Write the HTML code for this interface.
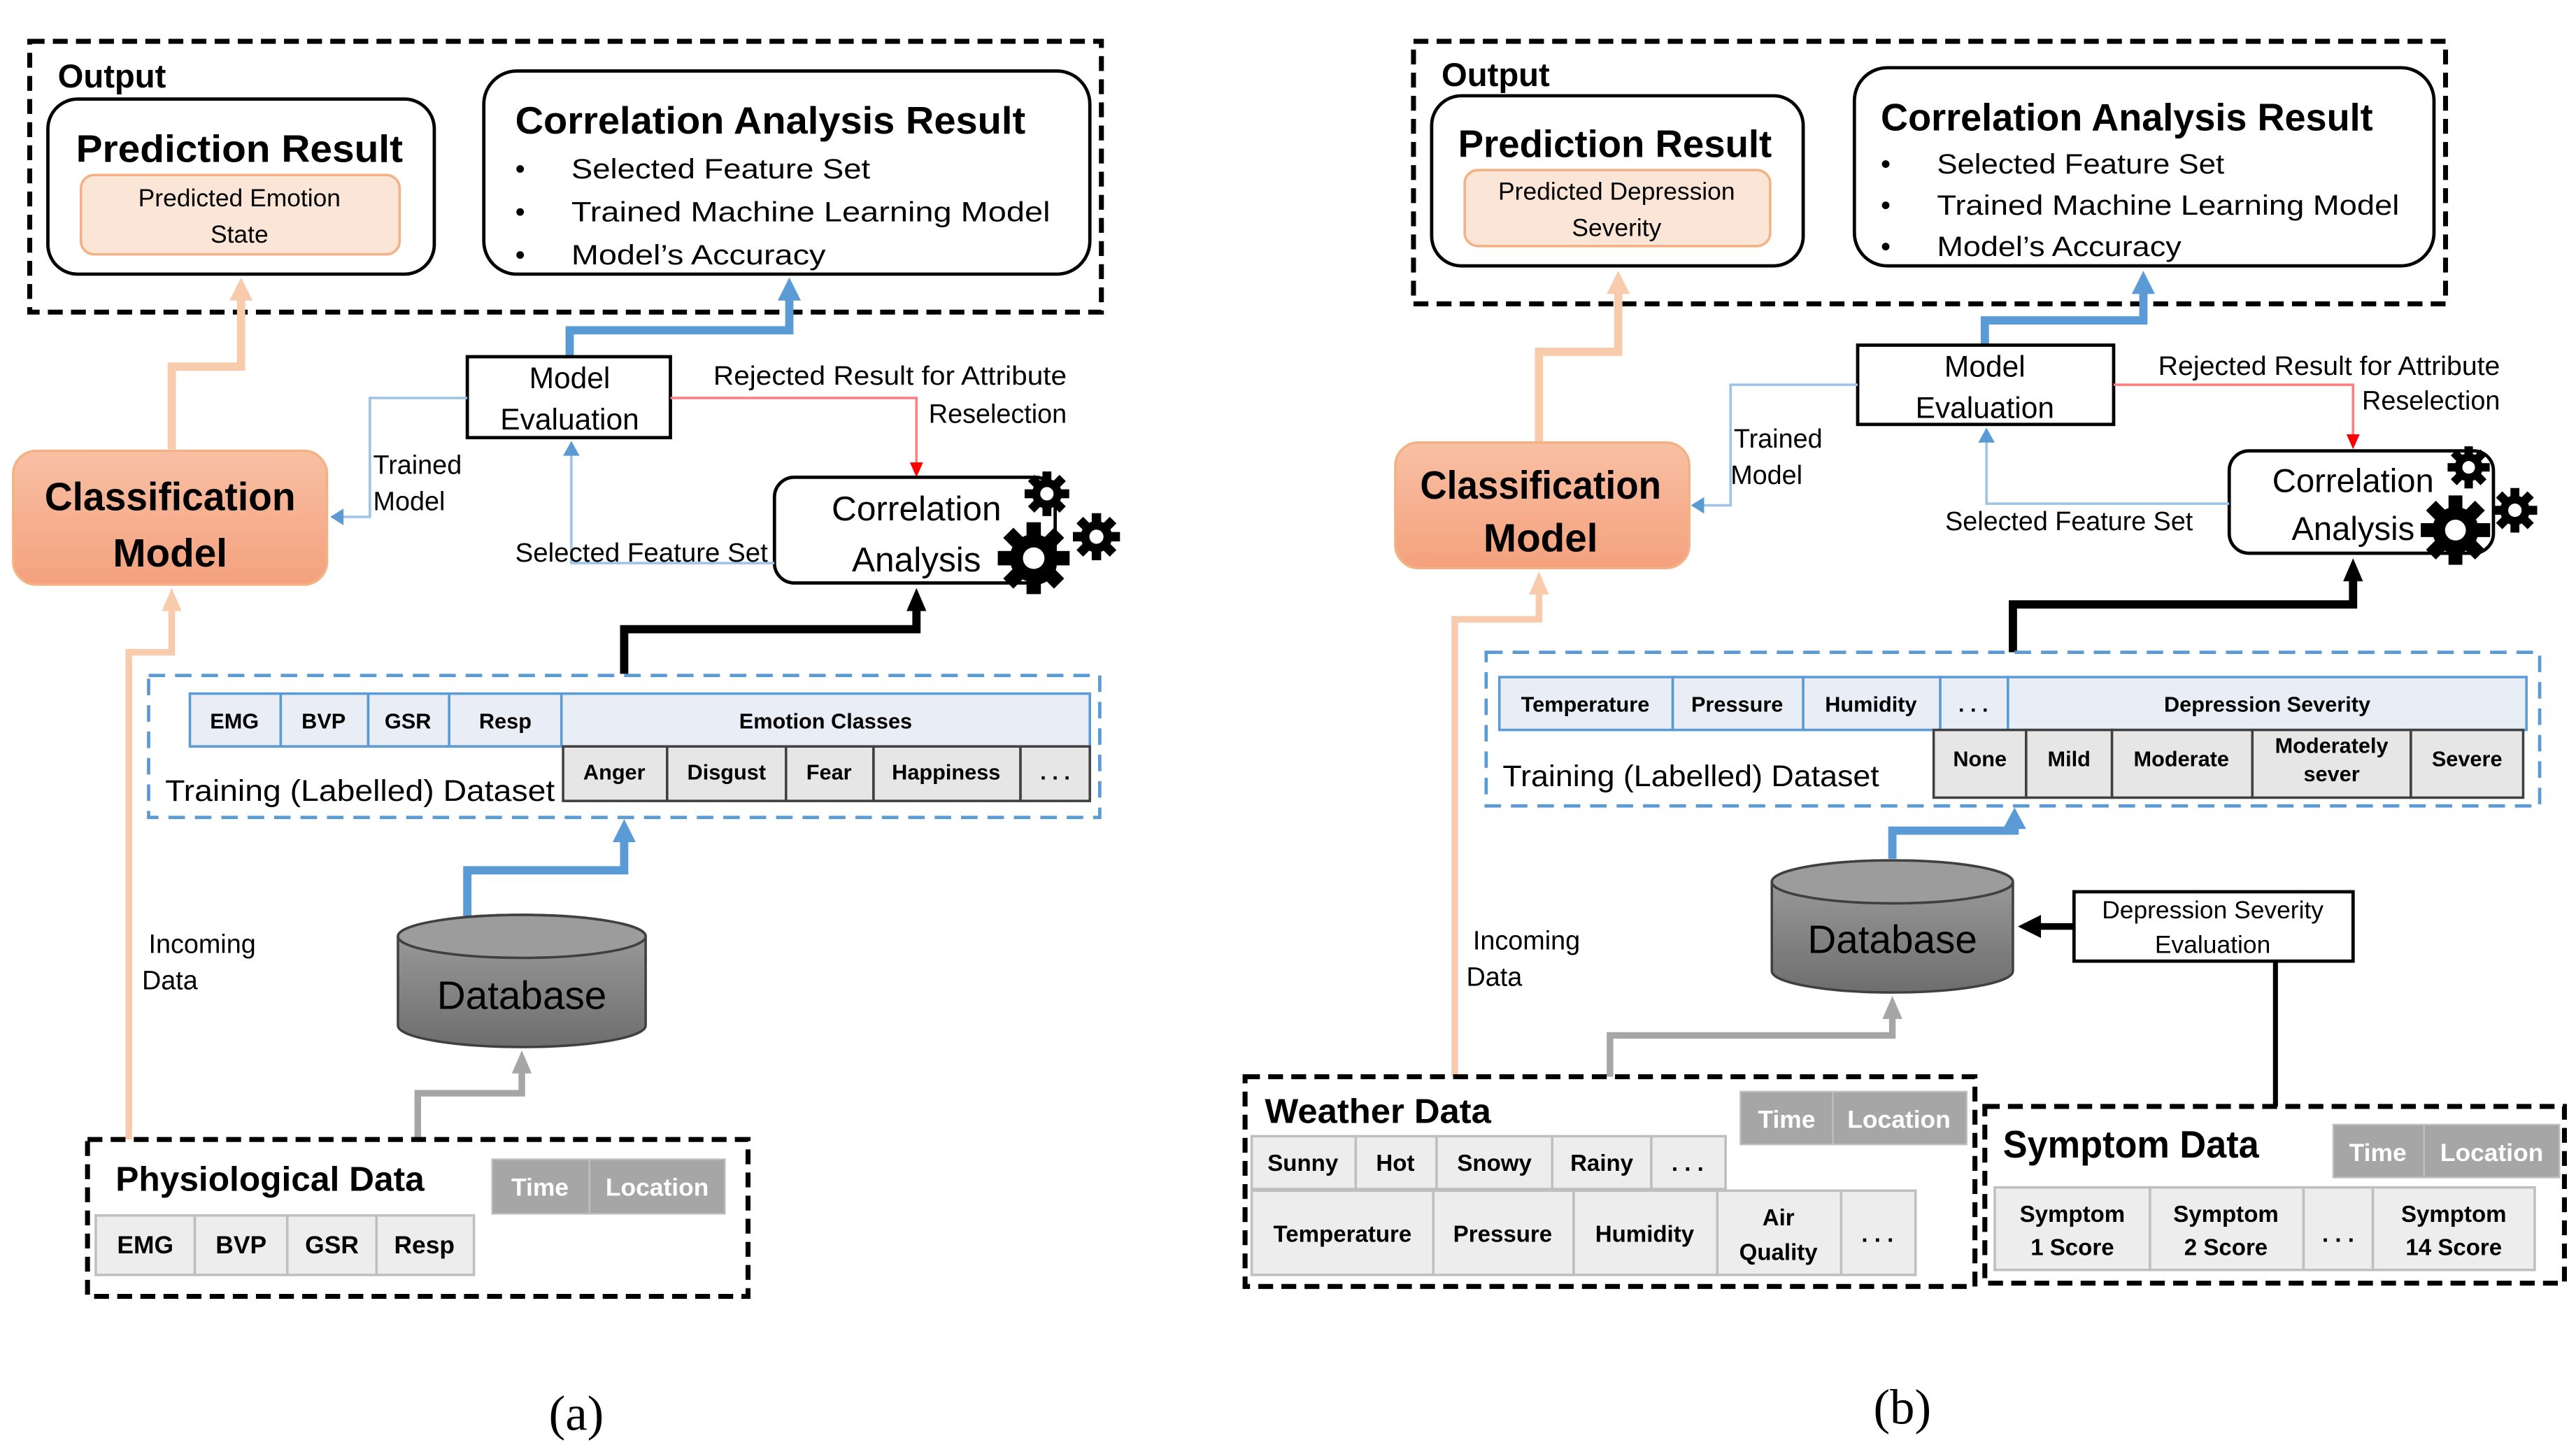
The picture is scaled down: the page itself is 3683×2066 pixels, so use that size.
<!DOCTYPE html>
<html><head><meta charset="utf-8">
<style>
html,body{margin:0;padding:0;background:#fff;}
svg{display:block;}
text{font-family:"Liberation Sans",sans-serif;fill:#000;}
.b{font-weight:bold;}
.c{text-anchor:middle;}
</style></head>
<body>
<svg width="3683" height="2066" viewBox="0 0 1560 875" preserveAspectRatio="none" xmlns="http://www.w3.org/2000/svg">
<defs>
<linearGradient id="gO" x1="0" y1="0" x2="0" y2="1"><stop offset="0" stop-color="#f8c0a4"/><stop offset="1" stop-color="#f4a17d"/></linearGradient>
<linearGradient id="gD" x1="0" y1="0" x2="0" y2="1"><stop offset="0" stop-color="#a0a0a0"/><stop offset="1" stop-color="#6e6e6e"/></linearGradient>
<g id="gear">
<circle r="10" fill="#000"/>
<g fill="#000">
<rect x="-3" y="-15" width="6" height="30"/>
<rect x="-3" y="-15" width="6" height="30" transform="rotate(45)"/>
<rect x="-3" y="-15" width="6" height="30" transform="rotate(90)"/>
<rect x="-3" y="-15" width="6" height="30" transform="rotate(135)"/>
</g>
<circle r="4.5" fill="#fff"/>
</g>
</defs>

<!-- ================= PANEL A ================= -->
<rect x="18" y="25" width="649" height="164" fill="none" stroke="#000" stroke-width="3" stroke-dasharray="9,5"/>
<text x="35" y="53" class="b" font-size="20">Output</text>
<rect x="29" y="60" width="234" height="106" rx="18" fill="#fff" stroke="#000" stroke-width="2"/>
<text x="145" y="98" class="b c" font-size="23" textLength="198" lengthAdjust="spacingAndGlyphs">Prediction Result</text>
<rect x="49" y="106" width="193" height="48" rx="8" fill="#fbe5d6" stroke="#f4b183" stroke-width="1.5"/>
<text x="145" y="125" class="c" font-size="15">Predicted Emotion</text>
<text x="145" y="147" class="c" font-size="15">State</text>
<rect x="293" y="43" width="367" height="123" rx="20" fill="#fff" stroke="#000" stroke-width="2"/>
<text x="312" y="81" class="b" font-size="23" textLength="309" lengthAdjust="spacingAndGlyphs">Correlation Analysis Result</text>
<text x="312" y="108" font-size="17">•</text><text x="346" y="108" font-size="17" textLength="181" lengthAdjust="spacingAndGlyphs">Selected Feature Set</text>
<text x="312" y="134" font-size="17">•</text><text x="346" y="134" font-size="17" textLength="290" lengthAdjust="spacingAndGlyphs">Trained Machine Learning Model</text>
<text x="312" y="160" font-size="17">•</text><text x="346" y="160" font-size="17" textLength="154" lengthAdjust="spacingAndGlyphs">Model’s Accuracy</text>

<polyline points="104,272 104,222 146,222 146,180" fill="none" stroke="#f8cbad" stroke-width="5"/>
<polygon points="139,182 146,168 153,182" fill="#f8cbad"/>
<polyline points="345,216 345,200 478,200 478,180" fill="none" stroke="#5b9bd5" stroke-width="5"/>
<polygon points="471,182 478,168 485,182" fill="#5b9bd5"/>

<rect x="283" y="216" width="123" height="49" fill="#fff" stroke="#000" stroke-width="2"/>
<text x="345" y="235" class="c" font-size="18">Model</text>
<text x="345" y="260" class="c" font-size="18">Evaluation</text>

<polyline points="283,241 224,241 224,313 207,313" fill="none" stroke="#9dc3e6" stroke-width="1.5"/>
<polygon points="208,308 200,313 208,318" fill="#5b9bd5"/>
<text x="226" y="287" font-size="16">Trained</text>
<text x="226" y="309" font-size="16">Model</text>
<polyline points="406,241 555,241 555,281" fill="none" stroke="#ff7c80" stroke-width="1.5"/>
<polygon points="551,280 555,289 559,280" fill="#ff0000"/>
<text x="432" y="233" font-size="16" textLength="214" lengthAdjust="spacingAndGlyphs">Rejected Result for Attribute</text>
<text x="646" y="256" font-size="16" text-anchor="end">Reselection</text>

<rect x="8" y="273" width="190" height="81" rx="14" fill="url(#gO)" stroke="#f4b183" stroke-width="1.5"/>
<text x="103" y="309" class="b c" font-size="24" textLength="152" lengthAdjust="spacingAndGlyphs">Classification</text>
<text x="103" y="343" class="b c" font-size="24">Model</text>

<rect x="469" y="289" width="170" height="64" rx="12" fill="#fff" stroke="#000" stroke-width="2"/>
<text x="555" y="315" class="c" font-size="21">Correlation</text>
<text x="555" y="346" class="c" font-size="21">Analysis</text>
<use href="#gear" transform="translate(634,299) scale(0.9)"/>
<use href="#gear" transform="translate(626,338) scale(1.45)"/>
<use href="#gear" transform="translate(664,325) scale(0.95)"/>

<polyline points="469,341 346,341 346,274" fill="none" stroke="#9dc3e6" stroke-width="1.5"/>
<polygon points="341,276 346,267 351,276" fill="#5b9bd5"/>
<text x="312" y="340" font-size="16" textLength="153" lengthAdjust="spacingAndGlyphs">Selected Feature Set</text>
<polyline points="378,408 378,381 555,381 555,368" fill="none" stroke="#000" stroke-width="5"/>
<polygon points="549,370 555,356 561,370" fill="#000"/>

<rect x="90" y="409" width="576" height="86" fill="#fff" stroke="#5b9bd5" stroke-width="2" stroke-dasharray="10,6"/>
<g stroke="#5b9bd5" stroke-width="1.5" fill="#e9edf6">
<rect x="115" y="420" width="55" height="32"/><rect x="170" y="420" width="53" height="32"/><rect x="223" y="420" width="49" height="32"/><rect x="272" y="420" width="68" height="32"/><rect x="340" y="420" width="320" height="32"/>
</g>
<text x="142" y="441" class="b c" font-size="13">EMG</text><text x="196" y="441" class="b c" font-size="13">BVP</text><text x="247" y="441" class="b c" font-size="13">GSR</text><text x="306" y="441" class="b c" font-size="13">Resp</text><text x="500" y="441" class="b c" font-size="13">Emotion Classes</text>
<g stroke="#404040" stroke-width="1.5" fill="#e7e6e6">
<rect x="341" y="452" width="63" height="33"/><rect x="404" y="452" width="72" height="33"/><rect x="476" y="452" width="53" height="33"/><rect x="529" y="452" width="89" height="33"/><rect x="618" y="452" width="42" height="33"/>
</g>
<text x="372" y="472" class="b c" font-size="13">Anger</text><text x="440" y="472" class="b c" font-size="13">Disgust</text><text x="502" y="472" class="b c" font-size="13">Fear</text><text x="573" y="472" class="b c" font-size="13">Happiness</text><text x="639" y="472" class="b c" font-size="13">. . .</text>
<text x="100" y="485" font-size="18" textLength="236" lengthAdjust="spacingAndGlyphs">Training (Labelled) Dataset</text>

<polyline points="283,555 283,527 378,527 378,508" fill="none" stroke="#5b9bd5" stroke-width="5"/>
<polygon points="371,510 378,496 385,510" fill="#5b9bd5"/>
<path d="M241,567 L241,621 A75,13 0 0 0 391,621 L391,567 A75,13 0 0 0 241,567z" fill="url(#gD)" stroke="#404040" stroke-width="1.5"/>
<ellipse cx="316" cy="567" rx="75" ry="13" fill="#9c9c9c" stroke="#404040" stroke-width="1.5"/>
<text x="316" y="611" class="c" font-size="24">Database</text>

<polyline points="253,690 253,662 316,662 316,648" fill="none" stroke="#a6a6a6" stroke-width="4"/>
<polygon points="310,650 316,636 322,650" fill="#a6a6a6"/>
<polyline points="78,690 78,395 104,395 104,368" fill="none" stroke="#f8cbad" stroke-width="4"/>
<polygon points="98,370 104,356 110,370" fill="#f8cbad"/>
<text x="90" y="577" font-size="16">Incoming</text>
<text x="86" y="599" font-size="16">Data</text>

<rect x="53" y="690" width="400" height="95" fill="#fff" stroke="#000" stroke-width="3" stroke-dasharray="9,5"/>
<text x="70" y="721" class="b" font-size="21" textLength="187" lengthAdjust="spacingAndGlyphs">Physiological Data</text>
<g fill="#a6a6a6" stroke="#bfbfbf" stroke-width="1"><rect x="298" y="702" width="59" height="33"/><rect x="357" y="702" width="82" height="33"/></g>
<text x="327" y="724" class="c b" font-size="15" style="fill:#fff">Time</text><text x="398" y="724" class="c b" font-size="15" style="fill:#fff">Location</text>
<g fill="#ededed" stroke="#bfbfbf" stroke-width="1.5"><rect x="58" y="736" width="60" height="36"/><rect x="118" y="736" width="56" height="36"/><rect x="174" y="736" width="54" height="36"/><rect x="228" y="736" width="59" height="36"/></g>
<text x="88" y="759" class="c b" font-size="15">EMG</text><text x="146" y="759" class="c b" font-size="15">BVP</text><text x="201" y="759" class="c b" font-size="15">GSR</text><text x="257" y="759" class="c b" font-size="15">Resp</text>

<text x="349" y="866" class="c" font-size="30" style="font-family:'Liberation Serif',serif">(a)</text>

<!-- ================= PANEL B ================= -->
<rect x="856" y="25" width="625" height="159" fill="none" stroke="#000" stroke-width="3" stroke-dasharray="9,5"/>
<text x="873" y="52" class="b" font-size="20">Output</text>
<rect x="867" y="58" width="225" height="103" rx="18" fill="#fff" stroke="#000" stroke-width="2"/>
<text x="978" y="95" class="b c" font-size="23" textLength="190" lengthAdjust="spacingAndGlyphs">Prediction Result</text>
<rect x="887" y="103" width="185" height="46" rx="8" fill="#fbe5d6" stroke="#f4b183" stroke-width="1.5"/>
<text x="979" y="121" class="c" font-size="15">Predicted Depression</text>
<text x="979" y="143" class="c" font-size="15">Severity</text>
<rect x="1123" y="41" width="351" height="120" rx="20" fill="#fff" stroke="#000" stroke-width="2"/>
<text x="1139" y="79" class="b" font-size="23" textLength="298" lengthAdjust="spacingAndGlyphs">Correlation Analysis Result</text>
<text x="1139" y="105" font-size="17">•</text><text x="1173" y="105" font-size="17" textLength="174" lengthAdjust="spacingAndGlyphs">Selected Feature Set</text>
<text x="1139" y="130" font-size="17">•</text><text x="1173" y="130" font-size="17" textLength="280" lengthAdjust="spacingAndGlyphs">Trained Machine Learning Model</text>
<text x="1139" y="155" font-size="17">•</text><text x="1173" y="155" font-size="17" textLength="148" lengthAdjust="spacingAndGlyphs">Model’s Accuracy</text>

<polyline points="932,268 932,213 980,213 980,176" fill="none" stroke="#f8cbad" stroke-width="5"/>
<polygon points="973,178 980,164 987,178" fill="#f8cbad"/>
<polyline points="1202,209 1202,194 1298,194 1298,176" fill="none" stroke="#5b9bd5" stroke-width="5"/>
<polygon points="1291,178 1298,164 1305,178" fill="#5b9bd5"/>

<rect x="1125" y="209" width="155" height="48" fill="#fff" stroke="#000" stroke-width="2"/>
<text x="1202" y="228" class="c" font-size="18">Model</text>
<text x="1202" y="253" class="c" font-size="18">Evaluation</text>

<polyline points="1125,233 1048,233 1048,306 1031,306" fill="none" stroke="#9dc3e6" stroke-width="1.5"/>
<polygon points="1032,301 1024,306 1032,311" fill="#5b9bd5"/>
<text x="1050" y="271" font-size="16">Trained</text>
<text x="1048" y="293" font-size="16">Model</text>
<polyline points="1280,233 1425,233 1425,264" fill="none" stroke="#ff7c80" stroke-width="1.5"/>
<polygon points="1421,263 1425,272 1429,263" fill="#ff0000"/>
<text x="1307" y="227" font-size="16" textLength="207" lengthAdjust="spacingAndGlyphs">Rejected Result for Attribute</text>
<text x="1514" y="248" font-size="16" text-anchor="end">Reselection</text>

<rect x="845" y="268" width="178" height="76" rx="14" fill="url(#gO)" stroke="#f4b183" stroke-width="1.5"/>
<text x="933" y="302" class="b c" font-size="24" textLength="146" lengthAdjust="spacingAndGlyphs">Classification</text>
<text x="933" y="334" class="b c" font-size="24">Model</text>

<rect x="1350" y="273" width="160" height="62" rx="12" fill="#fff" stroke="#000" stroke-width="2"/>
<text x="1425" y="298" class="c" font-size="20">Correlation</text>
<text x="1425" y="327" class="c" font-size="20">Analysis</text>
<use href="#gear" transform="translate(1495,283) scale(0.85)"/>
<use href="#gear" transform="translate(1487,321) scale(1.4)"/>
<use href="#gear" transform="translate(1523,309) scale(0.9)"/>

<polyline points="1350,305 1203,305 1203,266" fill="none" stroke="#9dc3e6" stroke-width="1.5"/>
<polygon points="1198,268 1203,259 1208,268" fill="#5b9bd5"/>
<text x="1178" y="321" font-size="16" textLength="150" lengthAdjust="spacingAndGlyphs">Selected Feature Set</text>
<polyline points="1219,395 1219,366 1425,366 1425,350" fill="none" stroke="#000" stroke-width="5"/>
<polygon points="1419,352 1425,338 1431,352" fill="#000"/>

<rect x="900" y="395" width="638" height="93" fill="#fff" stroke="#5b9bd5" stroke-width="2" stroke-dasharray="10,6"/>
<g stroke="#5b9bd5" stroke-width="1.5" fill="#e9edf6">
<rect x="908" y="410" width="105" height="32"/><rect x="1013" y="410" width="79" height="32"/><rect x="1092" y="410" width="83" height="32"/><rect x="1175" y="410" width="41" height="32"/><rect x="1216" y="410" width="314" height="32"/>
</g>
<text x="960" y="431" class="b c" font-size="13">Temperature</text><text x="1052" y="431" class="b c" font-size="13">Pressure</text><text x="1133" y="431" class="b c" font-size="13">Humidity</text><text x="1195" y="431" class="b c" font-size="13">. . .</text><text x="1373" y="431" class="b c" font-size="13">Depression Severity</text>
<g stroke="#404040" stroke-width="1.5" fill="#e7e6e6">
<rect x="1171" y="442" width="56" height="41"/><rect x="1227" y="442" width="52" height="41"/><rect x="1279" y="442" width="85" height="41"/><rect x="1364" y="442" width="96" height="41"/><rect x="1460" y="442" width="68" height="41"/>
</g>
<text x="1199" y="464" class="b c" font-size="13">None</text><text x="1253" y="464" class="b c" font-size="13">Mild</text><text x="1321" y="464" class="b c" font-size="13">Moderate</text><text x="1412" y="456" class="b c" font-size="13">Moderately</text><text x="1412" y="473" class="b c" font-size="13">sever</text><text x="1494" y="464" class="b c" font-size="13">Severe</text>
<text x="910" y="476" font-size="18" textLength="228" lengthAdjust="spacingAndGlyphs">Training (Labelled) Dataset</text>

<polyline points="1146,520 1146,503 1220,503 1220,500" fill="none" stroke="#5b9bd5" stroke-width="5"/>
<polygon points="1213,502 1220,489 1227,502" fill="#5b9bd5"/>
<path d="M1073,534 L1073,588 A73,13 0 0 0 1219,588 L1219,534 A73,13 0 0 0 1073,534z" fill="url(#gD)" stroke="#404040" stroke-width="1.5"/>
<ellipse cx="1146" cy="534" rx="73" ry="13" fill="#9c9c9c" stroke="#404040" stroke-width="1.5"/>
<text x="1146" y="577" class="c" font-size="24">Database</text>

<line x1="1256" y1="561" x2="1234" y2="561" stroke="#000" stroke-width="4"/>
<polygon points="1236,554 1222,561 1236,568" fill="#000"/>
<rect x="1256" y="540" width="169" height="42" fill="#fff" stroke="#000" stroke-width="2"/>
<text x="1340" y="556" class="c" font-size="15">Depression Severity</text>
<text x="1340" y="577" class="c" font-size="15">Evaluation</text>
<line x1="1378" y1="582" x2="1378" y2="670" stroke="#000" stroke-width="3"/>

<polyline points="975,652 975,627 1146,627 1146,615" fill="none" stroke="#a6a6a6" stroke-width="4"/>
<polygon points="1140,617 1146,603 1152,617" fill="#a6a6a6"/>
<polyline points="881,652 881,375 932,375 932,358" fill="none" stroke="#f8cbad" stroke-width="4"/>
<polygon points="926,360 932,346 938,360" fill="#f8cbad"/>
<text x="892" y="575" font-size="16">Incoming</text>
<text x="888" y="597" font-size="16">Data</text>

<rect x="754" y="652" width="442" height="127" fill="#fff" stroke="#000" stroke-width="3" stroke-dasharray="9,5"/>
<text x="766" y="680" class="b" font-size="21" textLength="137" lengthAdjust="spacingAndGlyphs">Weather Data</text>
<g fill="#a6a6a6" stroke="#bfbfbf" stroke-width="1"><rect x="1054" y="661" width="56" height="32"/><rect x="1110" y="661" width="81" height="32"/></g>
<text x="1082" y="683" class="c b" font-size="15" style="fill:#fff">Time</text><text x="1150" y="683" class="c b" font-size="15" style="fill:#fff">Location</text>
<g fill="#ededed" stroke="#bfbfbf" stroke-width="1.5">
<rect x="758" y="688" width="63" height="32"/><rect x="821" y="688" width="49" height="32"/><rect x="870" y="688" width="70" height="32"/><rect x="940" y="688" width="60" height="32"/><rect x="1000" y="688" width="45" height="32"/>
<rect x="758" y="721" width="110" height="51"/><rect x="868" y="721" width="85" height="51"/><rect x="953" y="721" width="87" height="51"/><rect x="1040" y="721" width="75" height="51"/><rect x="1115" y="721" width="45" height="51"/>
</g>
<text x="789" y="709" class="c b" font-size="14">Sunny</text><text x="845" y="709" class="c b" font-size="14">Hot</text><text x="905" y="709" class="c b" font-size="14">Snowy</text><text x="970" y="709" class="c b" font-size="14">Rainy</text><text x="1022" y="709" class="c b" font-size="14">. . .</text>
<text x="813" y="752" class="c b" font-size="14">Temperature</text><text x="910" y="752" class="c b" font-size="14">Pressure</text><text x="996" y="752" class="c b" font-size="14">Humidity</text><text x="1077" y="742" class="c b" font-size="14">Air</text><text x="1077" y="763" class="c b" font-size="14">Quality</text><text x="1137" y="752" class="c b" font-size="14">. . .</text>

<rect x="1202" y="670" width="351" height="107" fill="#fff" stroke="#000" stroke-width="3" stroke-dasharray="9,5"/>
<text x="1213" y="701" class="b" font-size="23" textLength="155" lengthAdjust="spacingAndGlyphs">Symptom Data</text>
<g fill="#a6a6a6" stroke="#bfbfbf" stroke-width="1"><rect x="1413" y="681" width="55" height="32"/><rect x="1468" y="681" width="82" height="32"/></g>
<text x="1440" y="703" class="c b" font-size="15" style="fill:#fff">Time</text><text x="1509" y="703" class="c b" font-size="15" style="fill:#fff">Location</text>
<g fill="#ededed" stroke="#bfbfbf" stroke-width="1.5">
<rect x="1208" y="719" width="94" height="50"/><rect x="1302" y="719" width="93" height="50"/><rect x="1395" y="719" width="42" height="50"/><rect x="1437" y="719" width="98" height="50"/>
</g>
<text x="1255" y="740" class="c b" font-size="14">Symptom</text><text x="1255" y="760" class="c b" font-size="14">1 Score</text>
<text x="1348" y="740" class="c b" font-size="14">Symptom</text><text x="1348" y="760" class="c b" font-size="14">2 Score</text>
<text x="1416" y="752" class="c b" font-size="14">. . .</text>
<text x="1486" y="740" class="c b" font-size="14">Symptom</text><text x="1486" y="760" class="c b" font-size="14">14 Score</text>

<text x="1152" y="862" class="c" font-size="30" style="font-family:'Liberation Serif',serif">(b)</text>
</svg>
</body></html>
